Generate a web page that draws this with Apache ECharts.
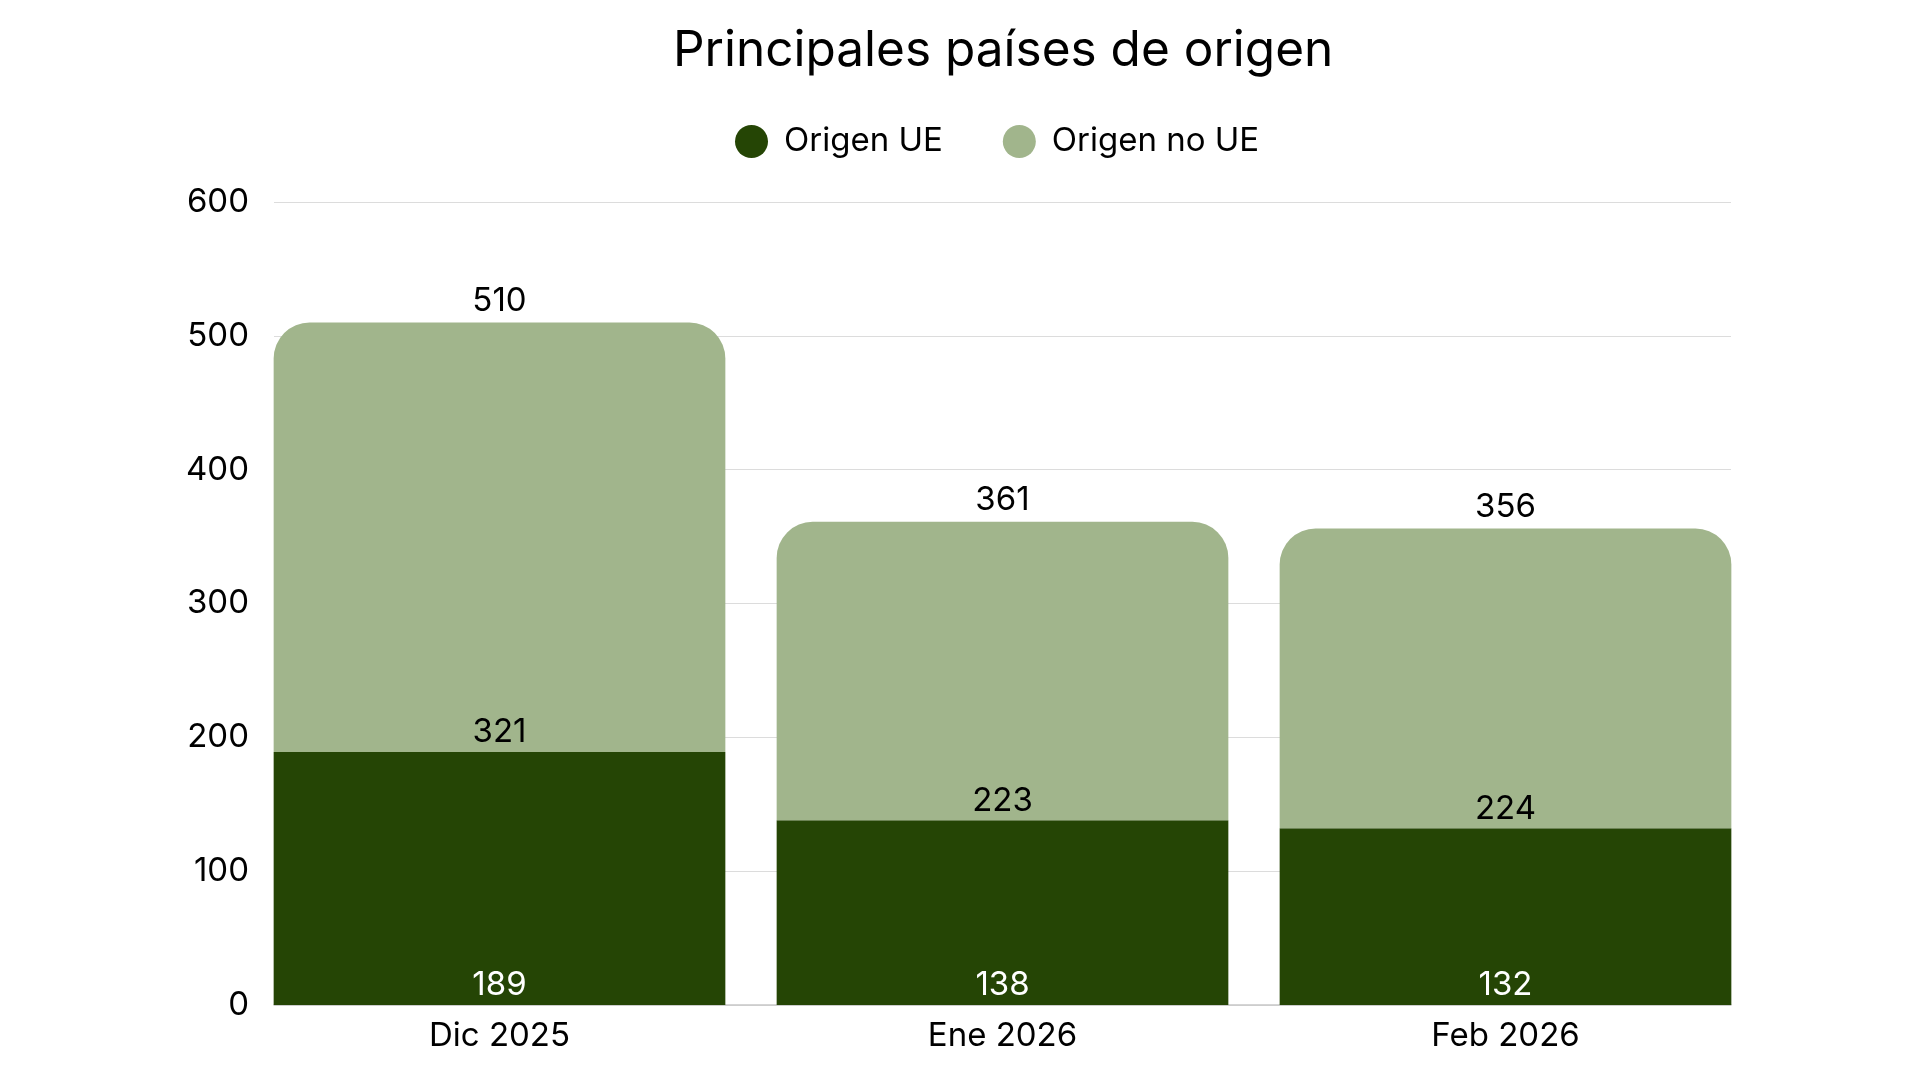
<!DOCTYPE html>
<html>
<head>
<meta charset="utf-8">
<script src="https://cdn.jsdelivr.net/npm/echarts@6/dist/echarts.min.js"></script>
<style>
  html, body { margin: 0; padding: 0; background: #fff; }
  #main { width: 1920px; height: 1080px; }
</style>
</head>
<body>
<div id="main"></div>
<script>
// datos del gráfico
const categories = ['Dic 2025', 'Ene 2026', 'Feb 2026']
const origenUE = [189, 138, 132]
const origenNoUE = [321, 223, 224]
const totales = [510, 361, 356]
const yTicks = { min: 0, max: 600, interval: 100 }

const oscuro = '#254505'
const claro = '#a1b58c'
const fuente = 'Inter'
const tam = 33

const chart = echarts.init(document.getElementById('main'))

const option = {
  textStyle: { fontFamily: fuente },
  title: {
    text: 'Principales países de origen',
    left: 668,
    top: 21,
    textStyle: { fontFamily: fuente, fontSize: 49.5, fontWeight: 'normal', color: '#000' }
  },
  legend: {
    data: ['Origen UE', 'Origen no UE'],
    top: 120,
    left: 730,
    icon: 'circle',
    itemWidth: 33,
    itemHeight: 33,
    itemGap: 60,
    textStyle: { fontFamily: fuente, fontSize: tam, color: '#000', padding: [0, 0, 0, 11] }
  },
  grid: [
    // barras
    { left: 248, right: 163, top: 202, bottom: 75 },
    // líneas de guía y eje y
    { left: 274, right: 189, top: 202, bottom: 75 }
  ],
  xAxis: [
    {
      type: 'category',
      gridIndex: 0,
      data: categories,
      axisLine: { show: false },
      axisTick: { show: false },
      axisLabel: { fontFamily: fuente, fontSize: tam, color: '#000', margin: 15 }
    },
    {
      type: 'category',
      gridIndex: 1,
      data: categories,
      axisLine: { show: true, lineStyle: { color: '#c8c8c8', width: 1.5 } },
      axisTick: { show: false },
      axisLabel: { show: false }
    }
  ],
  yAxis: [
    {
      type: 'value',
      gridIndex: 0,
      min: yTicks.min,
      max: yTicks.max,
      interval: yTicks.interval,
      show: false,
      splitLine: { show: false }
    },
    {
      type: 'value',
      gridIndex: 1,
      min: yTicks.min,
      max: yTicks.max,
      interval: yTicks.interval,
      axisLine: { show: false },
      axisTick: { show: false },
      axisLabel: { fontFamily: fuente, fontSize: tam, color: '#000', margin: 25 },
      splitLine: { show: true, lineStyle: { color: '#dcdcdc', width: 1.2 } }
    }
  ],
  series: [
    {
      name: 'Origen UE',
      type: 'bar',
      stack: 'total',
      xAxisIndex: 0,
      yAxisIndex: 0,
      barCategoryGap: '10.2%',
      itemStyle: { color: oscuro },
      label: {
        show: true,
        position: 'insideBottom',
        distance: 3,
        color: '#fff',
        fontFamily: fuente,
        fontSize: tam
      },
      data: origenUE
    },
    {
      name: 'Origen no UE',
      type: 'bar',
      stack: 'total',
      xAxisIndex: 0,
      yAxisIndex: 0,
      itemStyle: { color: claro, borderRadius: [36, 36, 0, 0] },
      label: {
        show: true,
        position: 'insideBottom',
        distance: 3,
        color: '#000',
        fontFamily: fuente,
        fontSize: tam
      },
      data: origenNoUE
    },
    {
      // etiqueta del total encima de cada barra
      name: 'Total',
      type: 'bar',
      stack: 'total',
      xAxisIndex: 0,
      yAxisIndex: 0,
      itemStyle: { color: 'rgba(0,0,0,0)' },
      label: {
        show: true,
        position: 'top',
        distance: 5,
        color: '#000',
        fontFamily: fuente,
        fontSize: tam,
        formatter: (p) => totales[p.dataIndex]
      },
      data: totales.map(() => 0)
    }
  ]
}

chart.setOption(option)
</script>
</body>
</html>
